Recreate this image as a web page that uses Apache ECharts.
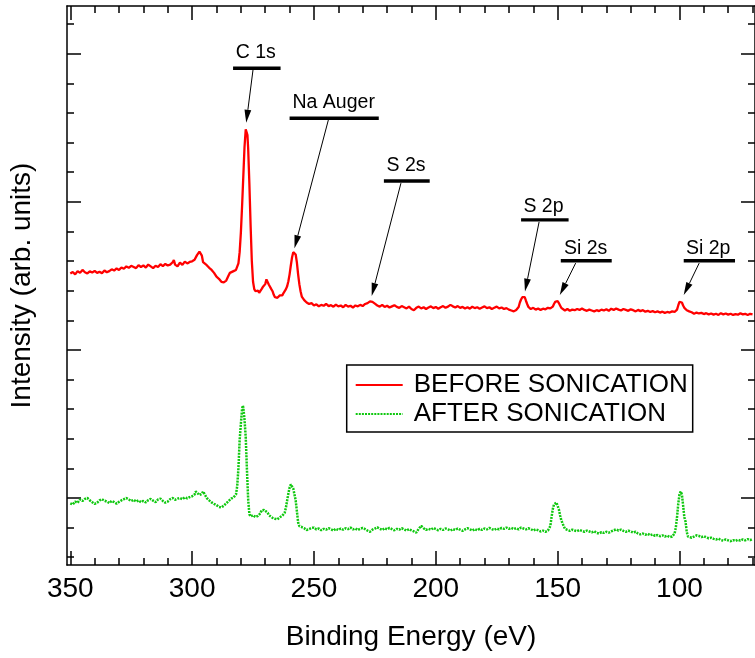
<!DOCTYPE html>
<html>
<head>
<meta charset="utf-8">
<script src="https://cdn.jsdelivr.net/npm/echarts@6/dist/echarts.min.js"></script>
<style>
html,body{margin:0;padding:0;background:#fff;}
#chart{width:755px;height:658px;}
</style>
</head>
<body>
<div id="chart"></div>
<script>
// ---------- DATA ----------
var seriesNames = ['BEFORE SONICATION', 'AFTER SONICATION'];

var beforeEnergy = [350,349,348,347,346,345,344,343,342,341,340,339,338,337,336,335,334,333,332,331,330,329,328,327,326,325,324,323,322,321,320,319,318,317,316,315,314,313,312,311,310,309,308,307.5,307,306,305,304,303,302,301,300,299,298,297,296,295.5,295,294,293,292,291,290,289,288,287,286,285,284.5,284,283,282,281.5,281,280.5,280,279.5,279,278.5,278,277.7,277.3,277,276.5,276,275.5,275,274.5,274,273.5,273,272.5,272,271.5,271,270.5,270,269.5,269,268.5,268,267.5,267,266.5,266,265.5,265,264.5,264,263.5,263,262.5,262,261.5,261,260.5,260,259.5,259,258.5,258,257.5,257,256.5,256,255.5,255,254,253,252,251,250,249,248,247,246,245,244,243,242,241,240,239,238,237,236,235,234,233,232,231,230,229,228,227,226.5,226,225,224,223,222,221,220,219,218,217,216,215,214,213,212,211,210,209,208,207,206,205,204,203,202,201,200,199,198,197,196,195,194,193,192,191,190,189,188,187,186,185,184,183,182,181,180,179,178,177,176,175,174,173,172,171,170,169,168,167,166,165.5,165,164.5,164,163.5,163,162.5,162,161,160,159,158,157,156,155,154,153,152,151.5,151,150.5,150,149.5,149,148.5,148,147,146,145,144,143,142,141,140,139,138,137,136,135,134,133,132,131,130,129,128,127,126,125,124,123,122,121,120,119,118,117,116,115,114,113,112,111,110,109,108,107,106,105,104,103,102,101,100.5,100,99.5,99,98.5,98,97.5,97,96,95,94,93,92,91,90,89,88,87,86,85,84,83,82,81,80,79,78,77,76,75,74,73,72,71,70];
var beforeIntensity = [12.58,12.63,12.55,12.66,12.60,12.70,12.62,12.58,12.65,12.61,12.67,12.60,12.64,12.59,12.68,12.62,12.66,12.72,12.68,12.75,12.70,12.78,12.74,12.82,12.77,12.84,12.80,12.76,12.86,12.80,12.85,12.78,12.88,12.82,12.76,12.84,12.80,12.89,12.83,12.90,12.85,12.88,12.96,13.03,12.88,12.82,12.95,12.87,12.98,12.92,12.97,12.99,13.04,13.20,13.32,13.18,12.96,12.93,12.86,12.77,12.70,12.60,12.47,12.40,12.30,12.28,12.34,12.52,12.60,12.62,12.66,12.70,12.76,12.92,13.30,13.95,14.85,15.85,16.85,17.45,17.50,17.25,16.80,15.60,14.20,13.00,12.30,12.05,11.98,11.95,12.00,11.93,11.97,12.05,12.12,12.10,12.22,12.38,12.32,12.20,12.15,12.05,11.98,11.86,11.78,11.72,11.76,11.80,11.84,11.88,11.84,11.92,11.95,12.05,12.15,12.32,12.55,12.85,13.12,13.30,13.35,13.22,12.95,12.55,12.22,11.98,11.80,11.68,11.60,11.55,11.58,11.50,11.54,11.47,11.52,11.49,11.55,11.48,11.51,11.46,11.53,11.47,11.50,11.44,11.52,11.46,11.49,11.43,11.50,11.47,11.52,11.48,11.55,11.58,11.64,11.68,11.62,11.56,11.50,11.46,11.52,11.45,11.49,11.43,11.47,11.51,11.45,11.42,11.48,11.44,11.40,11.46,11.38,11.34,11.42,11.46,11.40,11.44,11.38,11.43,11.47,11.41,11.45,11.39,11.44,11.48,11.42,11.46,11.52,11.47,11.43,11.48,11.42,11.45,11.40,11.44,11.39,11.46,11.41,11.44,11.39,11.43,11.47,11.41,11.44,11.38,11.42,11.46,11.40,11.43,11.38,11.41,11.36,11.33,11.30,11.35,11.45,11.60,11.70,11.78,11.82,11.78,11.66,11.55,11.45,11.38,11.42,11.36,11.40,11.35,11.39,11.37,11.42,11.40,11.46,11.55,11.62,11.66,11.65,11.58,11.50,11.42,11.36,11.33,11.38,11.32,11.36,11.34,11.38,11.35,11.40,11.35,11.32,11.36,11.33,11.30,11.34,11.31,11.36,11.33,11.37,11.32,11.39,11.35,11.40,11.36,11.33,11.38,11.35,11.32,11.37,11.34,11.30,11.35,11.31,11.34,11.29,11.32,11.28,11.31,11.27,11.30,11.26,11.29,11.25,11.28,11.26,11.30,11.28,11.36,11.50,11.62,11.66,11.60,11.50,11.42,11.38,11.34,11.30,11.27,11.22,11.26,11.23,11.25,11.21,11.24,11.20,11.23,11.19,11.22,11.18,11.24,11.20,11.23,11.19,11.22,11.18,11.21,11.19,11.24,11.20,11.22,11.18,11.22,11.20];

var afterEnergy = [350,349,348,347,346,345,344,343,342,341,340,339,338,337,336,335,334,333,332,331,330,329,328,327,326,325,324,323,322,321,320,319,318,317,316,315,314,313,312,311,310,309,308,307,306,305,304,303,302,301,300,299,298.5,298,297,296,295.5,295,294,293,292,291,290,289,288.5,288,287,286,285,284,283,282.5,282,281.5,281,280.5,280,279.5,279.2,279,278.5,278,277.5,277,276.5,276,275,274,273,272,271.5,271,270.5,270,269,268.5,268,267,266,265.5,265,264,263,262.5,262,261.5,261,260.5,260,259.5,259.2,259,258.5,258,257.5,257,256.5,256,255,254,253,252,251,250,249,248,247,246,245,244,243,242,241,240,239,238,237,236,235,234,233,232,231,230,229,228,227,226,225,224,223,222,221,220,219,218,217,216,215,214,213,212,211,210,209,208,207,206,205,204,203,202,201,200,199,198,197,196,195,194,193,192,191,190,189,188,187,186,185,184,183,182,181,180,179,178,177,176,175,174,173,172,171,170,169,168,167,166,165,164,163,162,161,160,159,158,157,156,155,154,153.5,153,152.5,152,151.5,151,150.5,150,149.5,149,148.5,148,147.5,147,146,145,144,143,142,141,140,139,138,137,136,135,134,133,132,131,130,129,128,127,126,125,124,123,122,121,120,119,118,117,116,115,114,113,112,111,110,109,108,107,106,105,104,103,102.5,102,101.5,101,100.5,100,99.5,99,98.5,98,97.5,97,96.5,96,95,94,93,92,91,90,89,88,87,86,85,84,83,82,81,80,79,78,77,76,75,74,73,72,71,70];
var afterIntensity = [4.82,4.78,4.88,4.84,4.95,4.90,4.97,5.00,4.92,4.86,4.80,4.84,4.92,4.96,4.91,4.88,4.83,4.90,4.86,4.81,4.87,4.92,4.96,5.00,4.95,4.90,4.94,4.88,4.92,4.86,4.90,4.85,4.93,4.97,4.91,4.86,4.95,4.98,4.90,4.84,4.88,4.96,5.00,4.94,4.98,5.00,4.96,5.02,4.99,5.03,5.06,5.12,5.22,5.18,5.10,5.14,5.22,5.16,5.00,4.92,4.85,4.80,4.76,4.70,4.64,4.68,4.74,4.82,4.90,4.98,5.02,5.06,5.12,5.40,6.00,6.95,7.50,8.00,8.12,8.05,7.65,7.05,5.95,4.95,4.45,4.38,4.42,4.36,4.40,4.48,4.58,4.63,4.60,4.55,4.50,4.42,4.38,4.33,4.30,4.24,4.28,4.35,4.40,4.42,4.50,4.68,4.92,5.15,5.35,5.46,5.47,5.44,5.32,5.12,4.92,4.55,4.18,4.05,4.02,3.98,3.92,3.95,3.99,4.00,3.94,3.97,3.91,3.96,3.93,3.98,3.94,3.90,3.96,3.92,3.97,3.93,3.98,3.95,4.00,3.94,3.97,3.92,3.96,3.99,3.95,3.90,3.86,3.93,3.97,4.01,3.96,3.92,3.98,3.94,3.99,3.95,3.91,3.96,3.93,3.98,3.94,3.90,3.95,3.91,3.87,3.83,3.96,4.06,3.98,3.92,3.96,3.93,3.99,3.95,3.91,3.96,3.92,3.97,3.94,3.90,3.95,3.92,3.97,3.93,3.89,3.94,3.98,3.94,3.90,3.95,3.91,3.96,3.92,3.97,3.94,3.99,3.95,3.92,3.97,3.94,3.99,3.96,4.00,3.96,3.99,3.95,3.98,3.94,4.00,3.97,3.94,3.98,3.95,3.90,3.94,3.91,3.87,3.90,3.86,3.90,3.92,4.05,4.35,4.62,4.78,4.84,4.85,4.80,4.62,4.42,4.25,4.15,4.05,3.96,3.92,3.89,3.93,3.90,3.88,3.92,3.89,3.86,3.90,3.87,3.84,3.88,3.82,3.80,3.85,3.82,3.86,3.83,3.87,3.91,3.94,3.90,3.93,3.89,3.86,3.90,3.87,3.83,3.86,3.80,3.77,3.80,3.76,3.79,3.74,3.77,3.72,3.75,3.71,3.74,3.70,3.73,3.68,3.70,3.72,3.80,4.00,4.35,4.80,5.12,5.22,5.12,4.75,4.35,4.20,3.85,3.70,3.64,3.66,3.70,3.74,3.72,3.68,3.71,3.67,3.64,3.66,3.62,3.60,3.63,3.58,3.56,3.60,3.57,3.54,3.58,3.55,3.59,3.56,3.60,3.57,3.61,3.58,3.62];

// axis ticks (energy in eV, intensity in arb. units)
var xMajorTicks = [100, 150, 200, 250, 300, 350];
var xMinorTicks = [70,80,90,110,120,130,140,160,170,180,190,210,220,230,240,260,270,280,290,310,320,330,340];
var yMajorTicks = [5, 10, 15, 20];
var yMinorTicks = [3,4,6,7,8,9,11,12,13,14,16,17,18,19,21];

// peak annotations (data coordinates)
var annLabels = ['C 1s', 'Na Auger', 'S 2s', 'S 2p', 'Si 2s', 'Si 2p'];
var annLabelAt = [[273.9,20.02],[241.9,18.35],[212.2,16.22],[155.8,14.83],[138.5,13.43],[88.2,13.43]];
var annBarFrom = [283.2, 260.0, 221.3, 165.0, 148.7, 98.25];
var annBarTo = [263.7, 223.4, 202.5, 145.5, 127.8, 77.2];
var annBarY = [19.51, 17.82, 15.70, 14.39, 13.01, 13.01];
var annArrowFrom = [[275.0,19.46],[244.1,17.76],[214.3,15.63],[157.6,14.32],[142.6,12.93],[91.9,12.93]];
var annArrowTo = [[277.8,17.67],[258.0,13.43],[226.3,11.82],[163.4,11.97],[149.1,11.85],[98.25,11.85]];

// ---------- CHART ----------
var FONT = '"Liberation Sans", Arial, sans-serif';
function zip(a, b) { var r = []; for (var i = 0; i < a.length; i++) r.push([a[i], b[i]]); return r; }

var X_MIN = 69, X_MAX = 351.35, Y_MIN = 2.738, Y_MAX = 21.61;
var lineBlack = { show: true, lineStyle: { color: '#000', width: 1.5 } };

function xAx(pos, ticks, len, main) {
  return {
    type: 'value', min: X_MIN, max: X_MAX, inverse: true, position: pos,
    axisLine: main ? lineBlack : { show: false },
    axisTick: { show: true, inside: true, length: len, customValues: ticks, lineStyle: { color: '#000', width: 1.5 } },
    axisLabel: (main && pos === 'bottom') ? { show: true, customValues: xMajorTicks, fontSize: 28, fontFamily: FONT, color: '#000', margin: 10 } : { show: false },
    splitLine: { show: false },
    name: (main && pos === 'bottom') ? 'Binding Energy (eV)' : '',
    nameLocation: 'middle', nameGap: 58,
    nameTextStyle: { fontSize: 28, fontFamily: FONT, color: '#000' }
  };
}
function yAx(pos, ticks, len, main) {
  return {
    type: 'value', min: Y_MIN, max: Y_MAX, position: pos,
    axisLine: main ? lineBlack : { show: false },
    axisTick: { show: true, inside: true, length: len, customValues: ticks, lineStyle: { color: '#000', width: 1.5 } },
    axisLabel: { show: false },
    splitLine: { show: false },
    name: (main && pos === 'left') ? 'Intensity (arb. units)' : '',
    nameLocation: 'middle', nameGap: 31,
    nameTextStyle: { fontSize: 28, fontFamily: FONT, color: '#000' }
  };
}

var chart = echarts.init(document.getElementById('chart'), null, { renderer: 'canvas' });
var option = {
  animation: false,
  backgroundColor: '#fff',
  grid: { left: 67, right: -5, top: 6, bottom: 93, containLabel: false },
  xAxis: [
    xAx('bottom', xMajorTicks, 14, true),
    xAx('bottom', xMinorTicks, 7, false),
    xAx('top', xMajorTicks, 14, true),
    xAx('top', xMinorTicks, 7, false)
  ],
  yAxis: [
    yAx('left', yMajorTicks, 14, true),
    yAx('left', yMinorTicks, 7, false),
    yAx('right', yMajorTicks, 14, true),
    yAx('right', yMinorTicks, 7, false)
  ],
  legend: {
    data: seriesNames,
    orient: 'vertical',
    left: 346.7, top: 365,
    padding: [7, 5, 5, 8],
    itemGap: 3, itemWidth: 47, itemHeight: 2,
    itemStyle: { opacity: 0 },
    borderColor: '#000', borderWidth: 1.5, backgroundColor: '#fff', borderRadius: 0,
    textStyle: { fontSize: 26, fontFamily: FONT, color: '#000', lineHeight: 26, padding: [0, 0, 0, 6] }
  },
  series: [
    {
      name: seriesNames[0], type: 'line', xAxisIndex: 0, yAxisIndex: 0,
      data: zip(beforeEnergy, beforeIntensity),
      showSymbol: false, symbol: 'none',
      lineStyle: { color: '#ff0000', width: 2.3 }, itemStyle: { color: '#ff0000' }
    },
    {
      name: seriesNames[1], type: 'line', xAxisIndex: 0, yAxisIndex: 0,
      data: zip(afterEnergy, afterIntensity),
      showSymbol: false, symbol: 'none',
      lineStyle: { color: '#10c810', width: 2.5, type: [2, 1.1] }, itemStyle: { color: '#10c810' }
    }
  ]
};
chart.setOption(option);

// annotations placed through the axes' own scales
function px(p) { return chart.convertToPixel({ xAxisIndex: 0, yAxisIndex: 0 }, p); }
var g = [];
for (var i = 0; i < annLabels.length; i++) {
  var t = px(annLabelAt[i]);
  g.push({ type: 'text', z: 100, style: { text: annLabels[i], x: t[0], y: t[1], align: 'center', verticalAlign: 'middle', fontSize: 19.5, fontFamily: FONT, fill: '#000' } });
  var b1 = px([annBarFrom[i], annBarY[i]]), b2 = px([annBarTo[i], annBarY[i]]);
  g.push({ type: 'line', z: 100, shape: { x1: b1[0], y1: b1[1], x2: b2[0], y2: b2[1] }, style: { stroke: '#000', lineWidth: 3.4 } });
  var s = px(annArrowFrom[i]), e = px(annArrowTo[i]);
  var dx = e[0] - s[0], dy = e[1] - s[1], L = Math.sqrt(dx * dx + dy * dy);
  var ux = dx / L, uy = dy / L, nx = -uy, ny = ux;
  var hl = 13, hw = 3.4;
  var bx = e[0] - ux * hl, by = e[1] - uy * hl;
  g.push({ type: 'line', z: 100, shape: { x1: s[0], y1: s[1], x2: bx, y2: by }, style: { stroke: '#000', lineWidth: 1 } });
  g.push({ type: 'polygon', z: 100, shape: { points: [[e[0], e[1]], [bx + nx * hw, by + ny * hw], [bx - nx * hw, by - ny * hw]] }, style: { fill: '#000' } });
}
chart.setOption({ graphic: g });
</script>
</body>
</html>
